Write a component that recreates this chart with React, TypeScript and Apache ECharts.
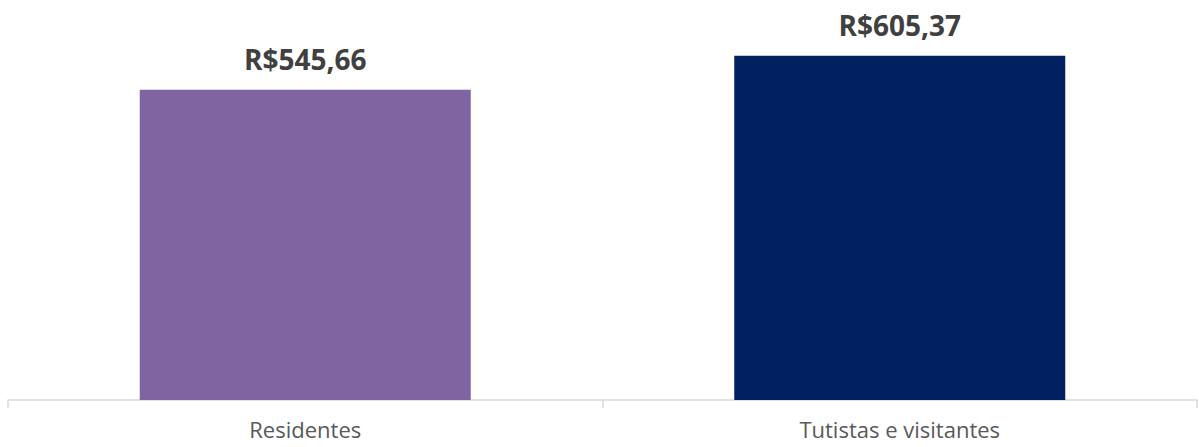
import React, { useEffect, useRef } from "react";
import * as echarts from "echarts";

const categories = ["Residentes", "Tutistas e visitantes"];
const values = [545.66, 605.37];
const barColors = ["#8064A2", "#002060"];

const formatBRL = (v: number) => "R$" + v.toFixed(2).replace(".", ",");

export default function App() {
  const ref = useRef<HTMLDivElement>(null);

  useEffect(() => {
    document.body.style.margin = "0";
    const chart = echarts.init(ref.current!, null, { renderer: "svg" });
    chart.setOption({
      animation: false,
      grid: { left: 8, right: 2, top: 2, bottom: 47, containLabel: false },
      xAxis: {
        type: "category",
        data: categories,
        axisLine: { lineStyle: { color: "#D9D9D9", width: 1.5 } },
        axisTick: { show: true, length: 8, lineStyle: { color: "#D9D9D9", width: 1.5 } },
        axisLabel: {
          color: "#595959",
          fontSize: 22,
          fontFamily: "Open Sans",
          margin: 17,
          lineHeight: 24,
        },
      },
      yAxis: {
        type: "value",
        min: 0,
        max: 700,
        show: false,
        splitLine: { show: false },
      },
      series: [
        {
          type: "bar",
          barWidth: 331,
          data: values.map((v, i) => ({ value: v, itemStyle: { color: barColors[i] } })),
          label: {
            show: true,
            position: "top",
            distance: 17,
            color: "#404040",
            fontSize: 28,
            fontWeight: "bold",
            fontFamily: "Open Sans",
            formatter: (p: any) => formatBRL(p.value),
          },
        },
      ],
    });
    return () => chart.dispose();
  }, []);

  return <div ref={ref} style={{ width: 1199, height: 447 }} />;
}
